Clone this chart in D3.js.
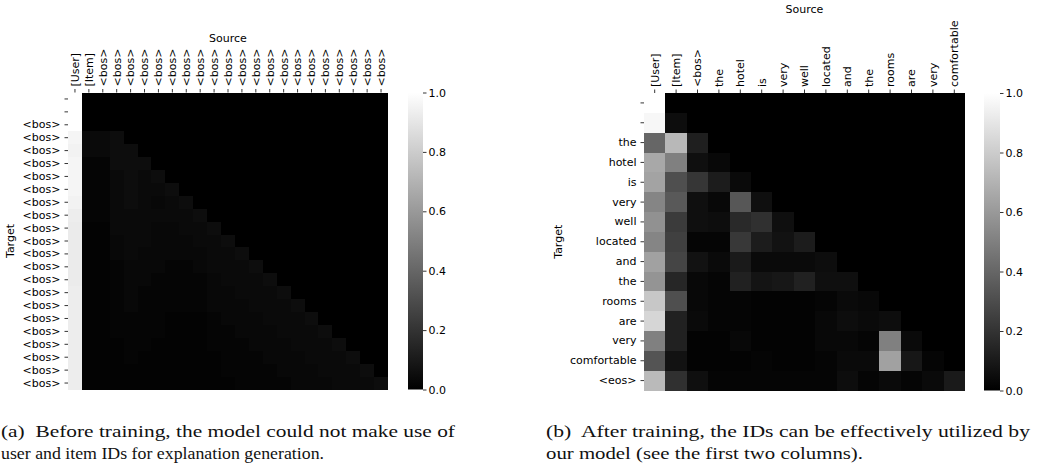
<!DOCTYPE html>
<html>
<head>
<meta charset="utf-8">
<script src="https://cdn.jsdelivr.net/npm/d3@7"></script>
<style>
  body { margin: 0; background: #fff; }
  svg text { font-family: "DejaVu Sans", sans-serif; }
  .caption { font-family: "Liberation Serif", serif !important; white-space: pre; }
</style>
</head>
<body>
<svg id="chart" width="1037" height="475"></svg>
<script>
// --- data ---
var leftSource = ["[User]", "[Item]"].concat(Array(21).fill("<bos>"));
var leftTarget = ["", ""].concat(Array(21).fill("<bos>"));
var leftWeights = [
  [1.00],
  [1.00, 0.00],
  [1.00, 0.00, 0.00],
  [0.96, 0.04, 0.04, 0.05],
  [0.95, 0.04, 0.04, 0.05, 0.05],
  [0.96, 0.02, 0.02, 0.05, 0.05, 0.05],
  [0.96, 0.02, 0.02, 0.04, 0.05, 0.04, 0.05],
  [0.96, 0.02, 0.02, 0.04, 0.05, 0.04, 0.04, 0.05],
  [0.95, 0.02, 0.02, 0.04, 0.05, 0.04, 0.03, 0.04, 0.05],
  [0.93, 0.02, 0.02, 0.04, 0.04, 0.04, 0.04, 0.04, 0.04, 0.05],
  [0.92, 0.01, 0.01, 0.04, 0.04, 0.04, 0.03, 0.03, 0.04, 0.04, 0.05],
  [0.92, 0.01, 0.01, 0.03, 0.04, 0.04, 0.03, 0.03, 0.03, 0.04, 0.04, 0.05],
  [0.92, 0.01, 0.01, 0.03, 0.04, 0.03, 0.03, 0.03, 0.03, 0.03, 0.04, 0.04, 0.05],
  [0.92, 0.01, 0.01, 0.02, 0.03, 0.03, 0.03, 0.02, 0.02, 0.03, 0.04, 0.04, 0.04, 0.05],
  [0.92, 0.01, 0.01, 0.02, 0.03, 0.03, 0.02, 0.02, 0.02, 0.02, 0.03, 0.04, 0.04, 0.04, 0.05],
  [0.93, 0.01, 0.01, 0.02, 0.03, 0.02, 0.02, 0.02, 0.02, 0.02, 0.03, 0.03, 0.04, 0.04, 0.04, 0.05],
  [0.93, 0.01, 0.01, 0.02, 0.03, 0.02, 0.02, 0.02, 0.02, 0.02, 0.03, 0.03, 0.03, 0.04, 0.04, 0.04, 0.05],
  [0.93, 0.01, 0.01, 0.02, 0.02, 0.02, 0.02, 0.01, 0.01, 0.01, 0.02, 0.03, 0.03, 0.03, 0.04, 0.04, 0.04, 0.05],
  [0.93, 0.01, 0.01, 0.02, 0.02, 0.02, 0.02, 0.01, 0.01, 0.01, 0.02, 0.02, 0.03, 0.03, 0.03, 0.04, 0.04, 0.04, 0.05],
  [0.93, 0.01, 0.01, 0.01, 0.02, 0.02, 0.01, 0.01, 0.01, 0.01, 0.02, 0.02, 0.02, 0.03, 0.03, 0.03, 0.04, 0.04, 0.04, 0.05],
  [0.93, 0.01, 0.01, 0.01, 0.02, 0.01, 0.01, 0.01, 0.01, 0.01, 0.01, 0.02, 0.02, 0.02, 0.03, 0.03, 0.03, 0.04, 0.04, 0.04, 0.05],
  [0.93, 0.01, 0.01, 0.01, 0.01, 0.01, 0.01, 0.01, 0.01, 0.01, 0.01, 0.02, 0.02, 0.02, 0.02, 0.03, 0.03, 0.03, 0.04, 0.04, 0.04, 0.05],
  [0.93, 0.01, 0.01, 0.01, 0.01, 0.01, 0.01, 0.01, 0.01, 0.01, 0.01, 0.01, 0.02, 0.02, 0.02, 0.02, 0.03, 0.03, 0.03, 0.04, 0.04, 0.04, 0.05]
];

var rightSource = ["[User]", "[Item]", "<bos>", "the", "hotel", "is", "very", "well",
  "located", "and", "the", "rooms", "are", "very", "comfortable"];
var rightTarget = ["", "", "the", "hotel", "is", "very", "well", "located", "and",
  "the", "rooms", "are", "very", "comfortable", "<eos>"];
var rightWeights = [
  [1.00],
  [0.97, 0.05],
  [0.40, 0.72, 0.12],
  [0.66, 0.50, 0.06, 0.03],
  [0.64, 0.31, 0.21, 0.11, 0.04],
  [0.52, 0.35, 0.06, 0.03, 0.34, 0.06],
  [0.57, 0.23, 0.06, 0.05, 0.16, 0.19, 0.06],
  [0.52, 0.25, 0.02, 0.02, 0.22, 0.11, 0.07, 0.11],
  [0.63, 0.27, 0.07, 0.04, 0.10, 0.04, 0.04, 0.04, 0.05],
  [0.58, 0.15, 0.03, 0.02, 0.13, 0.08, 0.09, 0.13, 0.06, 0.06],
  [0.78, 0.31, 0.03, 0.02, 0.02, 0.01, 0.01, 0.01, 0.02, 0.04, 0.03],
  [0.84, 0.13, 0.04, 0.02, 0.02, 0.01, 0.01, 0.01, 0.03, 0.05, 0.04, 0.05],
  [0.50, 0.13, 0.01, 0.01, 0.03, 0.01, 0.01, 0.01, 0.03, 0.03, 0.02, 0.50, 0.04],
  [0.33, 0.07, 0.01, 0.01, 0.01, 0.02, 0.01, 0.01, 0.02, 0.04, 0.04, 0.63, 0.09, 0.02],
  [0.73, 0.19, 0.06, 0.02, 0.02, 0.02, 0.02, 0.02, 0.02, 0.05, 0.02, 0.04, 0.02, 0.04, 0.10]
];

var colorbarTicks = [0, 0.2, 0.4, 0.6, 0.8, 1.0];

var captionA = ["(a)  Before training, the model could not make use of",
                "user and item IDs for explanation generation."];
var captionB = ["(b)  After training, the IDs can be effectively utilized by",
                "our model (see the first two columns)."];

// --- drawing ---
var svg = d3.select("#chart");
var color = d3.scaleLinear().domain([0, 1]).range(["#000", "#fff"]);
var fontSize = 11;

var grad = svg.append("defs").append("linearGradient")
    .attr("id", "cbar").attr("x1", 0).attr("y1", 1).attr("x2", 0).attr("y2", 0);
grad.append("stop").attr("offset", "0%").attr("stop-color", color(0));
grad.append("stop").attr("offset", "100%").attr("stop-color", color(1));

var drawPanel = (p) => {
    var x = d3.scaleBand().domain(d3.range(p.source.length)).range([p.left, p.right]);
    var y = d3.scaleBand().domain(d3.range(p.target.length)).range([p.top, p.bottom]);
    var g = svg.append("g");

    // cells, every cell of the grid; cells above the diagonal carry no weight
    p.weights.forEach((row, r) => {
        g.selectAll(null).data(p.source.map((s, c) => row[c] || 0)).enter()
            .append("rect")
            .attr("x", (d, c) => x(c))
            .attr("y", y(r))
            .attr("width", (d, c) => x.bandwidth() + (c < p.source.length - 1 ? 1 : 0))
            .attr("height", y.bandwidth() + (r < p.target.length - 1 ? 1 : 0))
            .attr("shape-rendering", "crispEdges")
            .attr("fill", (d) => color(d));
    });

    var xAxis = d3.axisTop(x).tickSize(3.5).tickFormat((i) => p.source[i]);
    g.append("g")
        .attr("transform", "translate(0," + p.top + ")")
        .call(xAxis)
        .call((a) => a.select(".domain").remove())
        .selectAll("text")
        .attr("x", 0).attr("y", 0).attr("dy", "0.35em")
        .attr("transform", "translate(0,-6) rotate(-90)")
        .attr("text-anchor", "start")
        .attr("font-size", fontSize)
        .attr("font-family", "DejaVu Sans");

    var yAxis = d3.axisLeft(y).tickSize(3.5).tickPadding(4).tickFormat((i) => p.target[i]);
    g.append("g")
        .attr("transform", "translate(" + p.left + ",0)")
        .call(yAxis)
        .call((a) => a.select(".domain").remove())
        .selectAll("text")
        .attr("font-size", fontSize)
        .attr("font-family", "DejaVu Sans");

    g.selectAll(".tick line").attr("stroke", "#000").attr("stroke-width", 0.8);

    g.append("text")
        .attr("x", (p.left + p.right) / 2)
        .attr("y", p.sourceY)
        .attr("text-anchor", "middle")
        .attr("font-size", fontSize)
        .text("Source");

    g.append("text")
        .attr("transform", "translate(" + p.targetX + "," + (p.top + p.bottom) / 2 + ") rotate(-90)")
        .attr("text-anchor", "middle")
        .attr("dy", "0.35em")
        .attr("font-size", fontSize)
        .text("Target");

    // colorbar
    var cScale = d3.scaleLinear().domain([0, 1]).range([p.bottom, p.top]);
    g.append("rect")
        .attr("x", p.cbarX)
        .attr("y", p.top)
        .attr("width", p.cbarW)
        .attr("height", p.bottom - p.top)
        .attr("fill", "url(#cbar)");
    g.append("g")
        .attr("transform", "translate(" + (p.cbarX + p.cbarW) + ",0)")
        .call(d3.axisRight(cScale).tickValues(colorbarTicks).tickFormat(d3.format(".1f")).tickSize(3.5).tickPadding(2))
        .call((a) => a.select(".domain").remove())
        .call((a) => a.selectAll(".tick line").attr("stroke-width", 0.8))
        .selectAll("text")
        .attr("font-size", fontSize)
        .attr("font-family", "DejaVu Sans");

    // caption lines fitted to the widths in the picture
    p.caption.forEach((line, i) => {
        svg.append("text")
            .attr("class", "caption")
            .attr("x", p.capX)
            .attr("y", 437 + i * 21.5)
            .attr("font-size", 17.5)
            .attr("fill", "#111")
            .attr("textLength", p.capW[i])
            .attr("lengthAdjust", "spacingAndGlyphs")
            .text(line);
    });
};

drawPanel({
    source: leftSource, target: leftTarget, weights: leftWeights,
    left: 68, right: 388, top: 92.5, bottom: 389.5,
    sourceY: 42, targetX: 10,
    cbarX: 408, cbarW: 15,
    caption: captionA, capX: 1, capW: [454, 323]
});

drawPanel({
    source: rightSource, target: rightTarget, weights: rightWeights,
    left: 644, right: 965, top: 93, bottom: 390.5,
    sourceY: 13, targetX: 558,
    cbarX: 984, cbarW: 16,
    caption: captionB, capX: 546, capW: [484, 317]
});
</script>
</body>
</html>
